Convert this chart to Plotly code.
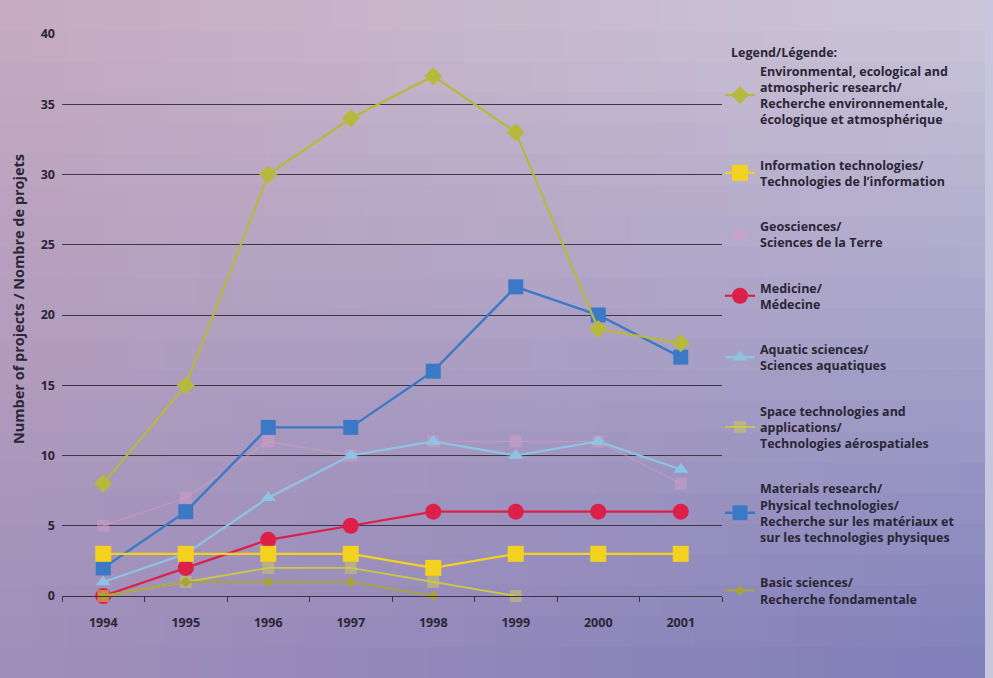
import plotly.graph_objects as go

years = ["1994", "1995", "1996", "1997", "1998", "1999", "2000", "2001"]

env = [8, 15, 30, 34, 37, 33, 19, 18]
info = [3, 3, 3, 3, 2, 3, 3, 3]
geo = [5, 7, 11, 10, 11, 11, 11, 8]
med = [0, 2, 4, 5, 6, 6, 6, 6]
aqua = [1, 3, 7, 10, 11, 10, 11, 9]
space = [0, 1, 2, 2, 1, 0, None, None]
mat = [2, 6, 12, 12, 16, 22, 20, 17]
basic = [0, 1, 1, 1, 0, None, None, None]

names = {
    "env": "Environmental, ecological and<br>atmospheric research/<br>Recherche environnementale,<br>écologique et atmosphérique",
    "info": "Information technologies/<br>Technologies de l’information",
    "geo": "Geosciences/<br>Sciences de la Terre",
    "med": "Medicine/<br>Médecine",
    "aqua": "Aquatic sciences/<br>Sciences aquatiques",
    "space": "Space technologies and<br>applications/<br>Technologies aérospatiales",
    "mat": "Materials research/<br>Physical technologies/<br>Recherche sur les matériaux et<br>sur les technologies physiques",
    "basic": "Basic sciences/<br>Recherche fondamentale",
}

y_ticks = [0, 5, 10, 15, 20, 25, 30, 35, 40]
y_title = "Number of projects / Nombre de projets"
legend_title = "Legend/Légende:"

W, H = 993, 678
ML, MR, MT, MB = 62, 271, 34, 82
PW, PH = W - ML - MR, H - MT - MB

FONT = "Open Sans"
TXT = "#2a2636"


def px_x(p):
    return (p - ML) / PW


def px_y(p):
    return (H - MB - p) / PH


fig = go.Figure()

# (key, values, color, line width, marker symbol, marker size, legend rank)
series = [
    ("geo", geo, "rgba(214,160,200,0.45)", 1.5, "square", 12, 3),
    ("aqua", aqua, "#8fc3e3", 2.2, "triangle-up", 13, 5),
    ("mat", mat, "#3b79c6", 2.4, "square", 15, 7),
    ("med", med, "#dd2048", 2.2, "circle", 16, 4),
    ("info", info, "#f2d21e", 2.2, "square", 16, 2),
    ("space", space, "#c9c845", 1.8, "square", 12, 6),
    ("basic", basic, "#a9a535", 1.8, "diamond", 8, 8),
    ("env", env, "#b7b93c", 2.2, "diamond", 14, 1),
]

for key, vals, color, lw, sym, ms, rank in series:
    mcolor = color
    if key == "space":
        mcolor = "rgba(205,200,95,0.55)"
    fig.add_trace(go.Scatter(
        x=years, y=vals, name=names[key], mode="lines+markers",
        line=dict(color=color, width=lw),
        marker=dict(symbol=sym, size=ms, color=mcolor, line=dict(width=0)),
        legendrank=rank, legendgroup=key, cliponaxis=False,
        connectgaps=False,
    ))

# gradient background built from small tiles
TL, TR, BL, BR = (199, 172, 194), (205, 200, 218), (160, 142, 186), (126, 126, 186)
nx, ny = 30, 22
shapes = []
for i in range(nx):
    for j in range(ny):
        u = (i + 0.5) / nx
        v = (j + 0.5) / ny
        c = [int(TL[k] * (1 - u) * (1 - v) + TR[k] * u * (1 - v) + BL[k] * (1 - u) * v + BR[k] * u * v) for k in range(3)]
        x0p, x1p = W * i / nx, W * (i + 1) / nx + 1
        y0p, y1p = H * j / ny, H * (j + 1) / ny + 1
        shapes.append(dict(
            type="rect", xref="paper", yref="paper", layer="below",
            x0=px_x(x0p), x1=px_x(x1p), y0=px_y(y1p), y1=px_y(y0p),
            fillcolor=f"rgb({c[0]},{c[1]},{c[2]})", line=dict(width=0),
        ))
# light page edge at the right
shapes.append(dict(
    type="rect", xref="paper", yref="paper", layer="below",
    x0=px_x(985), x1=px_x(W + 2), y0=px_y(H + 2), y1=px_y(-2),
    fillcolor="rgb(200,198,222)", line=dict(width=0),
))

fig.update_layout(
    width=W, height=H,
    margin=dict(l=ML, r=MR, t=MT, b=MB, pad=0),
    paper_bgcolor="rgba(0,0,0,0)", plot_bgcolor="rgba(0,0,0,0)",
    font=dict(family=FONT, size=12, color=TXT),
    shapes=shapes,
    showlegend=True,
    legend=dict(
        x=px_x(720), xanchor="left", y=px_y(56), yanchor="top",
        bgcolor="rgba(0,0,0,0)", borderwidth=0, maxheight=700,
        font=dict(family=FONT, size=12.5, color=TXT, weight="bold"),
        tracegroupgap=26, traceorder="grouped", itemclick=False,
    ),
    xaxis=dict(
        type="category", range=[-0.5, 7.5], showgrid=False,
        showline=True, linecolor="#3a3440", linewidth=1.2,
        ticks="outside", tickson="boundaries", ticklen=5, tickcolor="#3a3440",
        ticklabelstandoff=15,
        tickfont=dict(family=FONT, size=12.5, color=TXT, weight="bold"),
        zeroline=False,
    ),
    yaxis=dict(
        range=[0, 40], tickvals=y_ticks, showgrid=True, gridcolor="#3e3846", gridwidth=1.2,
        showline=False, zeroline=False, ticks="", ticklabelstandoff=6,
        tickfont=dict(family=FONT, size=12.5, color=TXT, weight="bold"),
    ),
    annotations=[
        dict(
            text="<b>" + y_title + "</b>", textangle=-90, xref="paper", yref="paper",
            x=px_x(18), y=px_y(299), xanchor="center", yanchor="middle", showarrow=False,
            font=dict(family=FONT, size=14.5, color=TXT),
        ),
        dict(
            text="<b>" + legend_title + "</b>", xref="paper", yref="paper",
            x=px_x(729), y=px_y(52), xanchor="left", yanchor="middle", showarrow=False,
            font=dict(family=FONT, size=12.5, color=TXT),
        ),
    ],
)

fig.write_html("out.html", config={"displayModeBar": False},
               post_script="document.body.style.margin='0';")
